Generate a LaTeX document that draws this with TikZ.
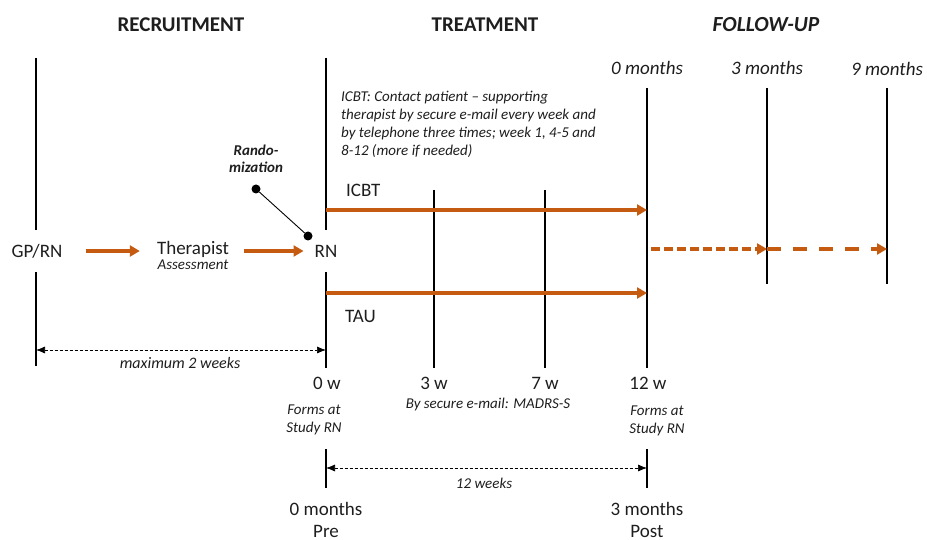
\documentclass[tikz,border=0pt]{standalone}
\usepackage{fontspec}
\setmainfont{Carlito}
\usetikzlibrary{positioning, arrows.meta}
\definecolor{orng}{RGB}{197,90,17}
\definecolor{txt}{RGB}{30,30,30}

\begin{document}
\begin{tikzpicture}[x=1pt, y=-1pt,
  lbl/.style={font=\fontsize{19}{22}\selectfont, text=txt, inner sep=1pt},
  note/.style={font=\fontsize{15}{18}\selectfont\itshape, text=txt, inner sep=1pt},
  head/.style={font=\fontsize{21}{24}\selectfont\bfseries, text=txt, inner sep=1pt},
  tline/.style={line width=1.1pt},
  orarrow/.style={draw=orng, line width=3.5pt, -{Triangle[length=10pt,width=11pt]}},
  orfollow/.style={orarrow, line width=3.2pt},
  span/.style={densely dashed, line width=0.7pt, {Latex[length=9pt,width=7pt]}-{Latex[length=9pt,width=7pt]}},
  dot/.style={circle, fill=black, inner sep=0pt, minimum size=9pt},
]
\useasboundingbox (0,0) rectangle (927,540);
% Phase headings
\node[head] (rec) at (181,25) {RECRUITMENT};
\node[head] (trt) at (485,25) {TREATMENT};
\node[head, font=\fontsize{21.5}{24}\selectfont\bfseries\itshape] (fup) at (766,25) {FOLLOW-UP};
\node[lbl, font=\fontsize{19}{22}\selectfont\itshape] (m0) at (647,68) {0 months};
\node[lbl, font=\fontsize{19}{22}\selectfont\itshape] (m3) at (767,68) {3 months};
\node[lbl, font=\fontsize{19}{22}\selectfont\itshape] (m9) at (887,69) {9 months};
% Time lines
\draw[tline] (36,58) -- (36,230) (36,272) -- (36,366);
\draw[tline] (326,58) -- (326,230) (326,272) -- (326,368);
\draw[tline] (434,190) -- (434,368);
\draw[tline] (545,190) -- (545,368);
\draw[tline] (647,88) -- (647,368);
\draw[tline] (767,88) -- (767,284);
\draw[tline] (887,88) -- (887,284);
% Recruitment flow
\node[lbl] (gp) at (37,251) {GP/RN};
\node[lbl] (ther) at (193,249) {Therapist};
\node[note, below=0pt of ther] (assess) {Assessment};
\node[lbl] (rn) at (326,251) {RN};
\draw[orarrow, shorten <=22pt, shorten >=16pt] (gp.east) -- (gp.east -| ther.west);
\draw[orarrow, shorten <=14pt, shorten >=10pt] (rn.west -| ther.east) -- (rn.west);
% Randomization
\node[note, font=\fontsize{15}{17}\selectfont\bfseries\itshape, align=center] (rand) at (256,159) {Rando-\\mization};
\node[dot] (d1) at (256,189) {};
\node[dot] (d2) at (308,236) {};
\draw[line width=0.9pt] (d1) -- (d2);
% Treatment arms
\coordinate (a0) at (326,210);
\coordinate (a1) at (647,210);
\coordinate (b0) at (326,293);
\coordinate (b1) at (647,293);
\draw[orarrow] (a0) -- (a1);
\draw[orarrow] (b0) -- (b1);
\node[lbl, anchor=west] (icbt) at (345,190) {ICBT};
\node[lbl, anchor=west] (tau) at (344,316) {TAU};
\node[note, anchor=north west, align=left] (info) at (340,90)
  {ICBT:\ Contact patient -- supporting\\
   therapist by secure e-mail every week and\\
   by telephone three times; week 1, 4-5 and\\
   8-12 (more if needed)};
% Follow-up
\coordinate (f0) at (651,249);
\coordinate (f1) at (767,249);
\coordinate (f2) at (887,249);
\draw[orfollow, dash pattern=on 9pt off 4pt] (f0) -- (f1);
\draw[orfollow, dash pattern=on 14pt off 12pt] (f1) -- (f2);
% Recruitment span
\coordinate (s0) at (36,350);
\coordinate (s1) at (326,350);
\draw[span] (s0) -- (s1);
\node[note, font=\fontsize{16}{19}\selectfont\itshape] (max2) at (180,363) {maximum 2 weeks};
% Weeks
\node[lbl] (w0) at (327,383) {0 w};
\node[lbl] (w3) at (434,383) {3 w};
\node[lbl] (w7) at (545,383) {7 w};
\node[lbl] (w12) at (648,383) {12 w};
\node[note, align=center] (form0) at (314,420) {Forms at\\Study RN};
\node[note, align=center] (form12) at (657,421) {Forms at\\Study RN};
\node[note] (mail) at (488,405) {By secure e-mail: MADRS-S};
% Treatment span
\draw[tline] (326,449) -- (326,488);
\draw[tline] (647,449) -- (647,488);
\coordinate (t0) at (326,468);
\coordinate (t1) at (647,468);
\draw[span] (t0) -- (t1);
\node[note] (wk12) at (484,483) {12 weeks};
% Assessment points
\node[lbl] (pre0) at (326,509) {0 months};
\node[lbl] (pre) at (326,531) {Pre};
\node[lbl] (post0) at (647,509) {3 months};
\node[lbl] (post) at (647,531) {Post};
\end{tikzpicture}
\end{document}
